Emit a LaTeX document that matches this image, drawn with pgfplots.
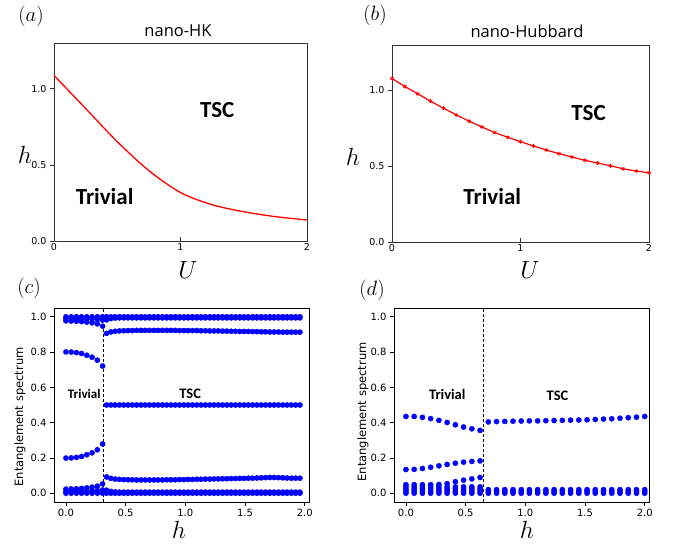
\documentclass[border=0pt]{standalone}
\usepackage{fontspec}
\setmainfont{DejaVu Sans}
\newfontfamily\calib{Carlito}
\newfontfamily\osans{Open Sans}
\usepackage{pgfplots}
\pgfplotsset{compat=1.18}
\usepackage{pgfplotstable}

\definecolor{pblue}{RGB}{0,0,255}
\definecolor{pred}{RGB}{255,0,0}

\pgfplotstableread{
h a b c d e f g k
0.000 1.000 0.990 0.977 0.801 0.199 0.023 0.010 0.000
0.044 1.000 0.990 0.976 0.800 0.200 0.024 0.010 0.000
0.088 1.000 0.989 0.975 0.797 0.203 0.025 0.011 0.000
0.131 1.000 0.989 0.973 0.792 0.208 0.027 0.011 0.000
0.175 1.000 0.988 0.970 0.782 0.218 0.030 0.012 0.000
0.219 1.000 0.987 0.966 0.771 0.229 0.034 0.013 0.000
0.263 1.000 0.985 0.960 0.754 0.246 0.040 0.015 0.000
0.307 1.000 0.982 0.947 0.721 0.279 0.053 0.018 0.000
}\trivC

\pgfplotstableread{
h a b c m e f g
0.340 1.000 0.983 0.906 0.500 0.092 0.017 0.000
0.376 1.000 0.990 0.914 0.500 0.084 0.010 0.000
0.412 1.000 0.993 0.918 0.500 0.080 0.007 0.000
0.448 1.000 0.994 0.920 0.500 0.078 0.006 0.000
0.484 1.000 0.994 0.921 0.500 0.077 0.006 0.000
0.520 1.000 0.994 0.922 0.500 0.076 0.006 0.000
0.556 1.000 0.994 0.922 0.500 0.076 0.006 0.000
0.592 1.000 0.994 0.923 0.500 0.075 0.006 0.000
0.628 1.000 0.994 0.923 0.500 0.075 0.006 0.000
0.664 1.000 0.994 0.923 0.500 0.075 0.006 0.000
0.700 1.000 0.994 0.923 0.500 0.075 0.006 0.000
0.736 1.000 0.994 0.923 0.500 0.075 0.006 0.000
0.772 1.000 0.994 0.923 0.500 0.075 0.006 0.000
0.808 1.000 0.994 0.923 0.500 0.075 0.006 0.000
0.844 1.000 0.994 0.923 0.500 0.076 0.006 0.000
0.880 1.000 0.994 0.923 0.500 0.076 0.006 0.000
0.916 1.000 0.994 0.923 0.500 0.076 0.006 0.000
0.952 1.000 0.994 0.922 0.500 0.077 0.006 0.000
0.988 1.000 0.994 0.922 0.500 0.077 0.006 0.000
1.024 1.000 0.994 0.922 0.500 0.078 0.006 0.000
1.060 1.000 0.994 0.922 0.500 0.078 0.006 0.000
1.096 1.000 0.994 0.922 0.500 0.079 0.006 0.000
1.132 1.000 0.994 0.921 0.500 0.079 0.006 0.000
1.168 1.000 0.994 0.921 0.500 0.080 0.006 0.000
1.204 1.000 0.994 0.920 0.500 0.080 0.006 0.000
1.240 1.000 0.994 0.920 0.500 0.081 0.006 0.000
1.276 1.000 0.994 0.920 0.500 0.081 0.006 0.000
1.312 1.000 0.994 0.919 0.500 0.082 0.006 0.000
1.348 1.000 0.994 0.919 0.500 0.082 0.006 0.000
1.384 1.000 0.994 0.918 0.500 0.083 0.006 0.000
1.420 1.000 0.994 0.918 0.500 0.083 0.006 0.000
1.456 1.000 0.994 0.917 0.500 0.084 0.006 0.000
1.492 1.000 0.994 0.917 0.500 0.084 0.006 0.000
1.528 1.000 0.994 0.917 0.500 0.085 0.006 0.000
1.564 1.000 0.994 0.916 0.500 0.085 0.006 0.000
1.600 1.000 0.994 0.916 0.500 0.086 0.006 0.000
1.636 1.000 0.994 0.915 0.500 0.087 0.006 0.000
1.672 1.000 0.994 0.915 0.500 0.088 0.006 0.000
1.708 1.000 0.994 0.914 0.500 0.089 0.006 0.000
1.744 1.000 0.994 0.914 0.500 0.089 0.006 0.000
1.780 1.000 0.994 0.914 0.500 0.088 0.006 0.000
1.816 1.000 0.994 0.913 0.500 0.087 0.006 0.000
1.852 1.000 0.994 0.913 0.500 0.086 0.006 0.000
1.888 1.000 0.994 0.913 0.500 0.085 0.006 0.000
1.924 1.000 0.994 0.913 0.500 0.085 0.006 0.000
1.960 1.000 0.994 0.913 0.500 0.085 0.006 0.000
}\tscC

\pgfplotstableread{
h r1 r2 r3 r4 r5 r6 r7
0.000 0.435 0.134 0.048 0.036 0.024 0.012 0.000
0.069 0.435 0.135 0.048 0.036 0.024 0.012 0.000
0.138 0.430 0.140 0.048 0.036 0.024 0.012 0.000
0.207 0.423 0.147 0.048 0.036 0.024 0.012 0.000
0.276 0.413 0.155 0.049 0.036 0.024 0.012 0.000
0.345 0.401 0.163 0.054 0.036 0.024 0.012 0.000
0.414 0.388 0.170 0.065 0.036 0.024 0.012 0.000
0.483 0.375 0.176 0.074 0.036 0.024 0.012 0.000
0.552 0.365 0.180 0.081 0.036 0.024 0.012 0.000
0.621 0.356 0.183 0.089 0.036 0.024 0.012 0.000
}\trivD

\pgfplotstableread{
h r1 r2 r3 r4
0.690 0.404 0.020 0.010 0.000
0.759 0.406 0.020 0.010 0.000
0.828 0.407 0.020 0.010 0.000
0.897 0.408 0.020 0.010 0.000
0.966 0.409 0.020 0.010 0.000
1.034 0.410 0.020 0.010 0.000
1.103 0.410 0.020 0.010 0.000
1.172 0.411 0.020 0.010 0.000
1.241 0.412 0.020 0.010 0.000
1.310 0.413 0.020 0.010 0.000
1.379 0.414 0.020 0.010 0.000
1.448 0.415 0.020 0.010 0.000
1.517 0.416 0.020 0.010 0.000
1.586 0.418 0.020 0.010 0.000
1.655 0.420 0.020 0.010 0.000
1.724 0.422 0.020 0.010 0.000
1.793 0.425 0.020 0.010 0.000
1.862 0.428 0.020 0.010 0.000
1.931 0.431 0.020 0.010 0.000
2.000 0.435 0.020 0.010 0.000
}\tscD

\pgfplotsset{
  topax/.style={
    scale only axis, anchor=south west,
    xmin=0, xmax=2, ymin=0, ymax=1.3,
    axis line style={line width=0.8pt, black!80},
    xtick={0,1,2}, xticklabels={0,1,2},
    ytick={0,0.5,1}, yticklabels={0.0,0.5,1.0},
    xtick pos=bottom, ytick pos=left,
    xtick align=inside, ytick align=outside,
    major tick length=4pt,
    tick style={black!80, line width=0.6pt},
    ticklabel style={font=\fontsize{9.5}{11}\selectfont},
    xticklabel style={yshift=1pt},
    clip=false,
  },
  botax/.style={
    scale only axis, anchor=south west,
    width=255pt, height=194pt,
    xmin=-0.1, xmax=2.036, ymin=-0.05, ymax=1.05,
    axis line style={line width=0.9pt, black},
    xtick={0,0.5,1,1.5,2}, xticklabels={0.0,0.5,1.0,1.5,2.0},
    ytick={0,0.2,0.4,0.6,0.8,1.0}, yticklabels={0.0,0.2,0.4,0.6,0.8,1.0},
    xtick pos=bottom, ytick pos=left,
    tick align=outside, major tick length=4pt,
    tick style={black, line width=0.7pt},
    ticklabel style={font=\fontsize{10}{12}\selectfont},
    clip=false,
  },
  dots/.style={only marks, mark=*, mark size=2.6pt, color=pblue, mark options={fill=pblue, draw=pblue}},
}

\begin{document}
\begin{tikzpicture}[x=1pt,y=1pt]
\useasboundingbox (0,0) rectangle (683,546);

% (a)
\begin{axis}[topax, at={(54pt,305pt)}, width=253pt, height=198pt]
\addplot[pred, line width=1.3pt, smooth] coordinates {
(0,1.087) (0.25,0.870) (0.5,0.652) (0.75,0.462) (1.0,0.318) (1.25,0.238) (1.5,0.192) (1.75,0.160) (2,0.138)};
\node[font=\calib\bfseries\fontsize{23}{26}\selectfont] at (axis cs:1.29,0.86) {TSC};
\node[font=\calib\bfseries\fontsize{23}{26}\selectfont] at (axis cs:0.40,0.29) {Trivial};
\end{axis}

% (b)
\begin{axis}[topax, at={(392pt,304pt)}, width=257pt, height=197pt]
\addplot[pred, line width=1.2pt, mark=asterisk, mark size=2pt, mark options={line width=0.8pt}] coordinates {
(0.0,1.079) (0.1,1.026) (0.2,0.978) (0.3,0.929) (0.4,0.883) (0.5,0.839) (0.6,0.797) (0.7,0.759) (0.8,0.722) (0.9,0.691) (1.0,0.662) (1.1,0.634) (1.2,0.607) (1.3,0.583) (1.4,0.561) (1.5,0.539) (1.6,0.521) (1.7,0.503) (1.8,0.483) (1.9,0.468) (2.0,0.457)};
\node[font=\calib\bfseries\fontsize{23}{26}\selectfont] at (axis cs:1.53,0.85) {TSC};
\node[font=\calib\bfseries\fontsize{23}{26}\selectfont] at (axis cs:0.78,0.30) {Trivial};
\end{axis}

% (c)
\begin{axis}[botax, at={(54pt,44pt)}]
\addplot[black, dashed, line width=0.9pt, dash pattern=on 3pt off 2pt] coordinates {(0.315,-0.05) (0.315,1.05)};
\foreach \c in {a,b,c,d,e,f,g,k} {
  \addplot[dots] table[x=h, y=\c] {\trivC};
}
\foreach \c in {a,b,c,m,e,f,g} {
  \addplot[dots] table[x=h, y=\c] {\tscC};
}
\node[font=\calib\bfseries\fontsize{13}{15}\selectfont] at (axis cs:0.153,0.56) {Trivial};
\node[font=\calib\bfseries\fontsize{14.5}{16}\selectfont] at (axis cs:1.04,0.563) {TSC};
\end{axis}

% (d)
\begin{axis}[botax, at={(394pt,44pt)}]
\addplot[black, dashed, line width=0.9pt, dash pattern=on 3pt off 2pt] coordinates {(0.647,-0.05) (0.647,1.05)};
\foreach \c in {r1,r2,r3,r4,r5,r6,r7} {
  \addplot[dots] table[x=h, y=\c] {\trivD};
}
\foreach \c in {r1,r2,r3,r4} {
  \addplot[dots] table[x=h, y=\c] {\tscD};
}
\node[font=\calib\bfseries\fontsize{14.5}{16}\selectfont] at (axis cs:0.346,0.56) {Trivial};
\node[font=\calib\bfseries\fontsize{14.5}{16}\selectfont] at (axis cs:1.27,0.554) {TSC};
\end{axis}

% panel letters
\node[inner sep=0pt, font=\fontsize{22}{24}\selectfont] at (31,530) {$(a)$};
\node[inner sep=0pt, font=\fontsize{22}{24}\selectfont] at (375,531) {$(b)$};
\node[inner sep=0pt, font=\fontsize{22}{24}\selectfont] at (29,258) {$(c)$};
\node[inner sep=0pt, font=\fontsize{22}{24}\selectfont] at (372,256) {$(d)$};
% titles
\node[inner sep=0pt, font=\osans\fontsize{16.5}{19}\selectfont] at (178,515) {nano-HK};
\node[inner sep=0pt, font=\osans\fontsize{16.5}{19}\selectfont] at (527,515) {nano-Hubbard};
% axis labels
\node[inner sep=0pt, font=\fontsize{24}{26}\selectfont] at (25,391) {$h$};
\node[inner sep=0pt, font=\fontsize{24}{26}\selectfont] at (353,389) {$h$};
\node[inner sep=0pt, font=\fontsize{24}{26}\selectfont] at (188,276) {$U$};
\node[inner sep=0pt, font=\fontsize{24}{26}\selectfont] at (530,276) {$U$};
\node[inner sep=0pt, font=\fontsize{26}{28}\selectfont] at (179,16) {$h$};
\node[inner sep=0pt, font=\fontsize{26}{28}\selectfont] at (527,16) {$h$};
\node[inner sep=0pt, font=\fontsize{11.5}{13}\selectfont, rotate=90] at (20,129) {Entanglement spectrum};
\node[inner sep=0pt, font=\fontsize{11.5}{13}\selectfont, rotate=90] at (363,134) {Entanglement spectrum};
\end{tikzpicture}
\end{document}
